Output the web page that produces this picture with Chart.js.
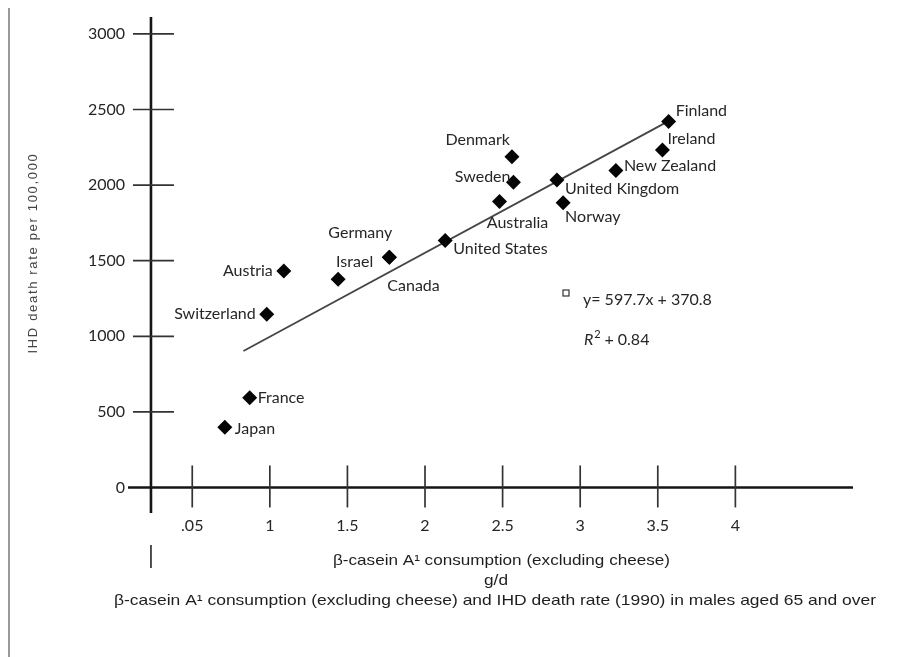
<!DOCTYPE html>
<html>
<head>
<meta charset="utf-8">
<title>Beta-casein A1 consumption and IHD death rate</title>
<script src="https://cdn.jsdelivr.net/npm/chart.js@4.4.1/dist/chart.umd.min.js"></script>
<style>
  html, body { margin: 0; padding: 0; background: #fff; }
  #wrap { width: 897px; height: 657px; }
</style>
</head>
<body>
<div id="wrap"><canvas id="scatterChart" width="897" height="657"></canvas></div>
<script>
// data
const countries = ['Japan', 'France', 'Switzerland', 'Austria', 'Israel', 'Germany', 'Canada', 'United States',
  'Australia', 'Sweden', 'Denmark', 'United Kingdom', 'Norway', 'New Zealand', 'Ireland', 'Finland'];
const caseinA1 = [0.71, 0.87, 0.98, 1.09, 1.44, 1.77, 1.77, 2.13, 2.48, 2.57, 2.56, 2.85, 2.89, 3.23, 3.53, 3.57];
const ihdDeathRate = [398, 594, 1146, 1432, 1377, 1523, 1523, 1633, 1891, 2019, 2188, 2034, 1884, 2096, 2233, 2420];

// fitted line as drawn in the figure (end points)
const trendX = [0.83, 3.56];
const trendY = [903, 2418];

const xTickValues = [0.5, 1, 1.5, 2, 2.5, 3, 3.5, 4];
const xTickLabels = ['.05', '1', '1.5', '2', '2.5', '3', '3.5', '4'];
const yTickValues = [0, 500, 1000, 1500, 2000, 2500, 3000];

const yAxisTitle = 'IHD death rate per 100,000';
const xAxisTitle = ['β-casein A¹ consumption (excluding cheese)', 'g/d'];
const caption = 'β-casein A¹ consumption (excluding cheese) and IHD death rate (1990) in males aged 65 and over';
const equationText = 'y= 597.7x + 370.8';
const r2Text = ' + 0.84';

// where each country name sits next to its marker (style only)
const labelPlacement = {
  'Japan': ['left', 10, 2], 'France': ['left', 8, 0], 'Switzerland': ['right', -11, 0],
  'Austria': ['right', -11, 0], 'Israel': ['left', -2, -17], 'Germany': ['center', -29, -24],
  'Canada': ['left', -2, 29], 'United States': ['left', 8, 8], 'Australia': ['center', 18, 21],
  'Sweden': ['right', -3, -5], 'Denmark': ['right', -2, -17], 'United Kingdom': ['left', 8, 9],
  'Norway': ['left', 2, 14], 'New Zealand': ['left', 8, -5], 'Ireland': ['left', 5, -11],
  'Finland': ['left', 7, -11]
};

const yAxisCross = 0.234; // x value where the vertical axis is drawn
const textColor = '#262626';

function drawLine(ctx, x1, y1, x2, y2) {
  ctx.beginPath();
  ctx.moveTo(x1, y1);
  ctx.lineTo(x2, y2);
  ctx.stroke();
}

// draws text squeezed/stretched to a given width (narrow font look)
function fitText(ctx, text, left, cy, width) {
  const w = ctx.measureText(text).width;
  ctx.save();
  ctx.translate(left, cy);
  ctx.scale(width / w, 1);
  ctx.textAlign = 'left';
  ctx.textBaseline = 'middle';
  ctx.fillText(text, 0, 0);
  ctx.restore();
}

const handAxes = {
  id: 'handAxes',
  beforeDatasetsDraw(chart) {
    const { ctx, chartArea: a, scales: { x, y } } = chart;
    const x0 = x.getPixelForValue(yAxisCross);
    const y0 = y.getPixelForValue(0);
    ctx.save();
    ctx.lineCap = 'butt';

    // scan border on the far left
    ctx.strokeStyle = '#777';
    ctx.lineWidth = 1.5;
    drawLine(ctx, 9, 8, 9, 657);

    ctx.strokeStyle = '#151515';
    ctx.lineWidth = 2.6;
    drawLine(ctx, x0, a.top, x0, a.bottom);
    drawLine(ctx, a.left, y0, a.right, y0);

    ctx.strokeStyle = '#333';
    ctx.lineWidth = 1.7;
    yTickValues.forEach(v => {
      if (v === 0) return;
      const py = y.getPixelForValue(v);
      drawLine(ctx, x0 - 18, py, x0 + 23, py);
    });
    xTickValues.forEach(v => {
      const px = x.getPixelForValue(v);
      drawLine(ctx, px, y0 - 22, px, y0 + 20);
    });
    // stray mark under the axis
    drawLine(ctx, x0, 545, x0, 568);
    ctx.restore();
  }
};

const textLayer = {
  id: 'textLayer',
  afterDatasetsDraw(chart) {
    const { ctx } = chart;
    ctx.save();
    ctx.fillStyle = textColor;

    // country names
    ctx.font = '16px Lato, "Open Sans", sans-serif';
    ctx.textBaseline = 'middle';
    const meta = chart.getDatasetMeta(0);
    meta.data.forEach((pt, i) => {
      const p = labelPlacement[countries[i]];
      ctx.textAlign = p[0];
      ctx.fillText(countries[i], pt.x + p[1], pt.y + p[2]);
    });

    // equation box
    ctx.strokeStyle = '#333';
    ctx.lineWidth = 1.2;
    ctx.strokeRect(563, 290, 6, 6);
    ctx.textAlign = 'left';
    ctx.fillText(equationText, 583, 300);
    ctx.font = 'italic 16px Lato, "Open Sans", sans-serif';
    ctx.fillText('R', 584, 340);
    const rw = ctx.measureText('R').width;
    ctx.font = '11px Lato, "Open Sans", sans-serif';
    ctx.fillText('2', 584 + rw + 1, 334);
    ctx.font = '16px Lato, "Open Sans", sans-serif';
    ctx.fillText(r2Text, 584 + rw + 7, 340);

    // y axis title, letter spaced
    ctx.save();
    ctx.translate(33, 253);
    ctx.rotate(-Math.PI / 2);
    ctx.font = '13px "Liberation Sans", Arial, sans-serif';
    ctx.fillStyle = '#444';
    ctx.textAlign = 'center';
    const tw = ctx.measureText(yAxisTitle).width;
    if ('letterSpacing' in ctx) {
      ctx.letterSpacing = ((201 - tw) / yAxisTitle.length).toFixed(2) + 'px';
      ctx.fillText(yAxisTitle, 0, 0);
    } else {
      ctx.scale(201 / tw, 1);
      ctx.fillText(yAxisTitle, 0, 0);
    }
    ctx.restore();

    // x axis title and caption in a narrow face
    ctx.fillStyle = '#1e1e1e';
    ctx.font = '15px "Liberation Sans", Arial, sans-serif';
    fitText(ctx, xAxisTitle[0], 333, 561, 337);
    fitText(ctx, xAxisTitle[1], 484, 581, 24);
    fitText(ctx, caption, 114, 601, 762);
    ctx.restore();
  }
};

const ctx = document.getElementById('scatterChart').getContext('2d');
new Chart(ctx, {
  type: 'scatter',
  data: {
    datasets: [{
      label: 'IHD death rate',
      data: caseinA1.map((v, i) => ({ x: v, y: ihdDeathRate[i] })),
      pointStyle: 'rectRot',
      pointRadius: 7.5,
      pointHoverRadius: 7.5,
      backgroundColor: '#050505',
      borderColor: '#050505',
      borderWidth: 0
    }, {
      label: 'Trend',
      type: 'line',
      data: trendX.map((v, i) => ({ x: v, y: trendY[i] })),
      borderColor: '#454545',
      borderWidth: 1.8,
      pointRadius: 0,
      fill: false
    }]
  },
  options: {
    responsive: false,
    animation: false,
    devicePixelRatio: 1,
    layout: { padding: { top: 17, right: 44, left: 0, bottom: 0 } },
    plugins: { legend: { display: false }, tooltip: { enabled: false } },
    scales: {
      x: {
        type: 'linear',
        min: 0.086,
        max: 4.758,
        afterBuildTicks: s => { s.ticks = xTickValues.map(v => ({ value: v })); },
        afterFit: s => { s.height = 144; },
        grid: { display: false, drawTicks: false },
        border: { display: false },
        ticks: {
          autoSkip: false, maxRotation: 0, padding: 3,
          color: textColor, font: { family: 'Lato', size: 16 },
          callback: (v, i) => xTickLabels[i]
        }
      },
      y: {
        type: 'linear',
        min: -169,
        max: 3112,
        afterBuildTicks: s => { s.ticks = yTickValues.map(v => ({ value: v })); },
        afterFit: s => { s.width = 128; },
        grid: { display: false, drawTicks: false },
        border: { display: false },
        ticks: {
          padding: 3,
          color: textColor, font: { family: 'Lato', size: 16 },
          callback: v => String(v)
        }
      }
    }
  },
  plugins: [handAxes, textLayer]
});
</script>
</body>
</html>
